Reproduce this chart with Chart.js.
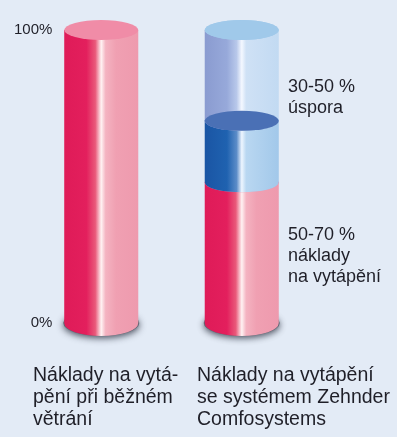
<!DOCTYPE html>
<html>
<head>
<meta charset="utf-8">
<script src="https://cdn.jsdelivr.net/npm/chart.js@4/dist/chart.umd.min.js"></script>
<style>
  html, body { margin: 0; padding: 0; background: #e3ebf6; }
  canvas { display: block; }
</style>
</head>
<body>
<canvas id="chart" width="397" height="437"></canvas>
<script>
// data
const categories = [
  ['Náklady na vytá-', 'pění při běžném', 'větrání'],
  ['Náklady na vytápění', 'se systémem Zehnder', 'Comfosystems']
];
const heatingCost = [100, 48];
const reducedCost = [0, 21];
const savings = [0, 31];
const yTicks = [0, 100];
const savingsNote = ['30-50 %', 'úspora'];
const costNote = ['50-70 %', 'náklady', 'na vytápění'];

const FONT = "'Liberation Sans', Arial, sans-serif";
const TEXT = '#1f1f28';

// look of each stacked segment
const looks = [
  { // red
    stops: [[0, '#df1b58'], [0.3, '#e31f5d'], [0.42, '#e9597a'], [0.5, '#fff3f3'], [0.56, '#f4b3c1'], [0.7, '#f0a0b2'], [1, '#ee9aae']],
    cap: '#f08ca7'
  },
  { // dark blue
    stops: [[0, '#1a55a4'], [0.3, '#1f62b0'], [0.43, '#5b8cc8'], [0.5, '#eef6ff'], [0.56, '#b9d7f1'], [1, '#a2c8ea']],
    cap: '#4a70b5'
  },
  { // light blue, see-through
    stops: [[0, '#8a9bd0'], [0.3, '#97a9da'], [0.43, '#b8c8ea'], [0.5, '#f4f8ff'], [0.56, '#cfe1f5'], [1, '#c2daf2']],
    cap: '#a0c9ea',
    glass: true
  }
];

const CAP_RY = 10;
const BASE_RY = 13;

function bodyPath(ctx, bar, ry) {
  const rx = bar.width / 2;
  ctx.beginPath();
  ctx.moveTo(bar.x - rx, bar.y);
  ctx.lineTo(bar.x - rx, bar.base);
  ctx.ellipse(bar.x, bar.base, rx, ry, 0, Math.PI, 0, true);
  ctx.lineTo(bar.x + rx, bar.y);
  ctx.closePath();
}

function drawBody(ctx, bar, look, ry) {
  const rx = bar.width / 2;
  const g = ctx.createLinearGradient(bar.x - rx, 0, bar.x + rx, 0);
  look.stops.forEach(s => g.addColorStop(s[0], s[1]));
  bodyPath(ctx, bar, ry);
  ctx.fillStyle = g;
  ctx.fill();
}

function drawCap(ctx, bar, look) {
  ctx.beginPath();
  ctx.ellipse(bar.x, bar.y, bar.width / 2, CAP_RY, 0, 0, Math.PI * 2);
  ctx.fillStyle = look.cap;
  ctx.fill();
}

const cylinders = {
  id: 'cylinders',
  beforeDraw(chart) {
    const ctx = chart.ctx;
    ctx.save();
    ctx.fillStyle = '#e3ebf6';
    ctx.fillRect(0, 0, chart.width, chart.height);
    ctx.restore();
  },
  afterDatasetsDraw(chart) {
    const ctx = chart.ctx;
    ctx.save();
    chart.data.labels.forEach((label, i) => {
      let segs = [];
      chart.data.datasets.forEach((ds, d) => {
        if (ds.data[i] > 0) segs.push({ bar: chart.getDatasetMeta(d).data[i], look: looks[d] });
      });
      if (!segs.length) return;

      // soft shadow under the base
      const b0 = segs[0].bar;
      ctx.save();
      ctx.shadowColor = 'rgba(30,35,50,0.8)';
      ctx.shadowBlur = 7;
      ctx.shadowOffsetY = 2;
      ctx.beginPath();
      ctx.ellipse(b0.x, b0.base, b0.width / 2 + 1, BASE_RY, 0, 0, Math.PI * 2);
      ctx.fillStyle = '#5f6472';
      ctx.fill();
      ctx.restore();

      segs.forEach((s, k) => {
        drawBody(ctx, s.bar, s.look, k === 0 ? BASE_RY : CAP_RY);
        drawCap(ctx, s.bar, s.look);
      });
      // the cap under a see-through segment stays visible
      segs.forEach((s, k) => {
        if (k > 0 && s.look.glass) {
          drawCap(ctx, segs[k - 1].bar, segs[k - 1].look);
          drawCap(ctx, s.bar, s.look);
        }
      });
    });

    ctx.fillStyle = TEXT;
    ctx.textAlign = 'left';
    ctx.textBaseline = 'alphabetic';

    // notes beside the right cylinder
    ctx.font = '18px ' + FONT;
    savingsNote.forEach((t, k) => ctx.fillText(t, 288, 92 + k * 20.5));
    costNote.forEach((t, k) => ctx.fillText(t, 288, 240 + k * 21));

    // category labels under the cylinders
    ctx.font = '19.5px ' + FONT;
    chart.data.labels.forEach((lines, i) => {
      const left = i === 0 ? 33 : 197;
      lines.forEach((t, k) => ctx.fillText(t, left, 381 + k * 22));
    });
    ctx.restore();
  }
};

new Chart(document.getElementById('chart'), {
  type: 'bar',
  data: {
    labels: categories,
    datasets: [
      { label: 'Náklady', data: heatingCost, backgroundColor: 'rgba(0,0,0,0)' },
      { label: 'Náklady se systémem', data: reducedCost, backgroundColor: 'rgba(0,0,0,0)' },
      { label: 'Úspora', data: savings, backgroundColor: 'rgba(0,0,0,0)' }
    ]
  },
  options: {
    responsive: false,
    animation: false,
    events: [],
    layout: { padding: { top: 30, bottom: 114, left: 0, right: 85 } },
    datasets: { bar: { categoryPercentage: 1, barPercentage: 0.527 } },
    plugins: {
      legend: { display: false },
      tooltip: { enabled: false }
    },
    scales: {
      x: { stacked: true, display: false },
      y: {
        stacked: true,
        min: 0,
        max: 100,
        afterBuildTicks(scale) { scale.ticks = yTicks.map(v => ({ value: v })); },
        afterFit(scale) { scale.width = 31; },
        ticks: {
          callback: v => v + '%',
          mirror: true,
          crossAlign: 'far',
          padding: -17,
          color: TEXT,
          font: { size: 15, family: FONT }
        },
        grid: { display: false, drawTicks: false },
        border: { display: false }
      }
    }
  },
  plugins: [cylinders]
});
</script>
</body>
</html>
